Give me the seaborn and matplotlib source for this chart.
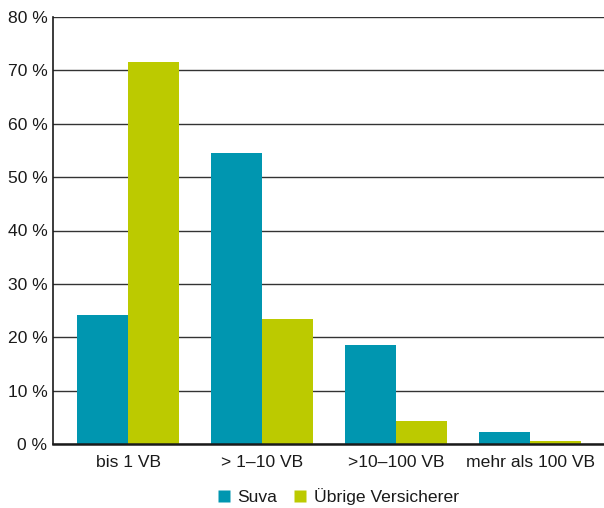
import matplotlib
matplotlib.use("Agg")
import matplotlib.pyplot as plt
import seaborn as sns
import pandas as pd
from matplotlib.lines import Line2D

categories = ["bis 1 VB", "> 1–10 VB", ">10–100 VB", "mehr als 100 VB"]
suva = [24.2, 54.6, 18.6, 2.3]
uebrige = [71.6, 23.5, 4.4, 0.5]
series_names = ["Suva", "Übrige Versicherer"]
colors = ["#0096b0", "#bcca00"]
yticks = [0, 10, 20, 30, 40, 50, 60, 70, 80]

df = pd.DataFrame({
    "Kategorie": categories * 2,
    "Wert": suva + uebrige,
    "Serie": [series_names[0]] * 4 + [series_names[1]] * 4,
})

sns.set_theme(style="white")
plt.rcParams["font.family"] = ["Liberation Sans", "DejaVu Sans"]

fs = 12.6
fig = plt.figure(figsize=(6.04, 5.08), dpi=100)
ax = fig.add_axes([53 / 604, 64 / 508, 551 / 604, 427 / 508])

sns.barplot(data=df, x="Kategorie", y="Wert", hue="Serie", palette=colors,
            width=0.76, saturation=1, ax=ax, legend=False, zorder=3)
for p in ax.patches:
    p.set_edgecolor("none")

ax.set_ylim(0, 80)
ax.set_xlim(-0.56, 3.55)
ax.set_yticks(yticks)
ax.set_yticklabels([f"{v} %" for v in yticks], fontsize=fs, color="#1a1a1a")
ax.tick_params(axis="x", labelsize=fs, labelcolor="#1a1a1a", length=0, pad=8)
ax.tick_params(axis="y", length=0, pad=4)
ax.set_xlabel("")
ax.set_ylabel("")
ax.yaxis.grid(True, color="#333333", linewidth=1.0, zorder=0)
ax.set_axisbelow(True)

for s in ["top", "right"]:
    ax.spines[s].set_visible(False)
ax.spines["left"].set_color("#1a1a1a")
ax.spines["left"].set_linewidth(1.2)
ax.spines["bottom"].set_color("#1a1a1a")
ax.spines["bottom"].set_linewidth(1.8)
ax.spines["bottom"].set_zorder(4)

handles = [Line2D([0], [0], marker="s", linestyle="none", markersize=8,
                  markerfacecolor=c, markeredgecolor="none") for c in colors]
fig.legend(handles, series_names, loc="center", bbox_to_anchor=(337 / 604, 1 - 497 / 508),
           ncol=2, frameon=False, fontsize=fs, handletextpad=0.3, columnspacing=0.8,
           handlelength=1.0, labelcolor="#1a1a1a")

fig.savefig("out.png", dpi=100)
